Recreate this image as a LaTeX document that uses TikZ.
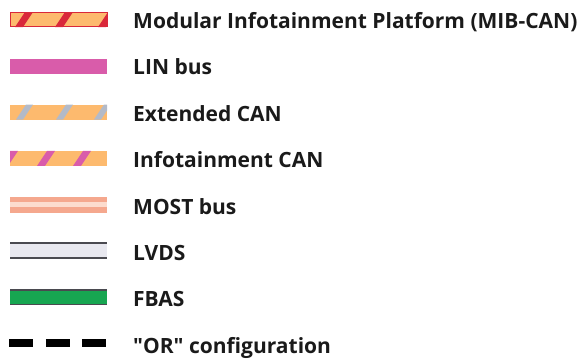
\documentclass[tikz,border=0pt]{standalone}
\usepackage{fontspec}
\setmainfont{Open Sans}
\definecolor{cor}{HTML}{FDBA6E}
\definecolor{cred}{HTML}{D9283A}
\definecolor{cmag}{HTML}{D95CAA}
\definecolor{cgrey}{HTML}{B3BAC8}
\definecolor{csal}{HTML}{F5A88E}
\definecolor{csall}{HTML}{FCDCCE}
\definecolor{clv}{HTML}{E8E8EF}
\definecolor{cdk}{HTML}{4A4A50}
\definecolor{cgrn}{HTML}{17A651}
\definecolor{ctxt}{HTML}{1A1A1A}
\tikzset{
  lbl/.style={anchor=base west, inner sep=0pt, font=\fontsize{21}{24}\selectfont\bfseries, text=ctxt},
}
\newcommand{\stripes}[5]{% y-center, color, list of x, width, slant
  \begin{scope}
    \clip (10,#1-7.5) rectangle (107,#1+7.5);
    \foreach \sx in {#3} {
      \fill[#2] (\sx,#1+7.5) -- (\sx+#4,#1+7.5) -- (\sx+#4+#5,#1-7.5) -- (\sx+#5,#1-7.5) -- cycle;
    }
  \end{scope}
}
\begin{document}
\begin{tikzpicture}[x=1pt,y=-1pt]
\useasboundingbox (0,0) rectangle (580,360);
% 1 MIB-CAN  (baseline 28.3, centre 19.6)
\fill[cor] (10,12.1) rectangle (107,27.1);
\stripes{19.6}{cred}{15,55,98}{8}{10}
\draw[cred,line width=1] (10,12.6) rectangle (107,26.6);
\node[lbl] (t1) at (133,28.3) {Modular Infotainment Platform (MIB-CAN)};
% 2 LIN  (baseline 74.7)
\fill[cmag] (10,58.5) rectangle (107,73.5);
\node[lbl] (t2) at (133,74.7) {LIN bus};
% 3 Extended CAN (baseline 121.2)
\fill[cor] (10,104.5) rectangle (107,119.5);
\stripes{112}{cgrey}{16,56,94}{7}{10}
\node[lbl] (t3) at (133,121.2) {Extended CAN};
% 4 Infotainment CAN (baseline 167.6)
\fill[cor] (10,150.9) rectangle (107,165.9);
\stripes{158.4}{cmag}{0,37,73}{8}{10}
\node[lbl] (t4) at (133,167.6) {Infotainment CAN};
% 5 MOST (baseline 214)
\fill[csal] (10,197.3) rectangle (107,212.5);
\fill[csall] (10,202.4) rectangle (107,207.4);
\node[lbl] (t5) at (133,214.0) {MOST bus};
% 6 LVDS (baseline 260.5)
\fill[clv] (10,243.3) rectangle (107,258);
\draw[cdk,line width=2] (10,243.3) -- (107,243.3);
\draw[cdk,line width=2] (10,258) -- (107,258);
\node[lbl] (t6) at (133,260.5) {LVDS};
% 7 FBAS (baseline 306.9)
\fill[cgrn] (10,290) rectangle (107,304.5);
\draw[cdk,line width=1.4] (10,290) -- (107,290);
\draw[cdk,line width=1.4] (10,304.5) -- (107,304.5);
\node[lbl] (t7) at (133,306.9) {FBAS};
% 8 OR (baseline 353.3)
\draw[black,line width=8,dash pattern=on 24 off 12.5] (9.3,343.3) -- (107,343.3);
\node[lbl] (t8) at (133,353.3) {\textquotedbl OR\textquotedbl{} configuration};
\end{tikzpicture}
\end{document}
